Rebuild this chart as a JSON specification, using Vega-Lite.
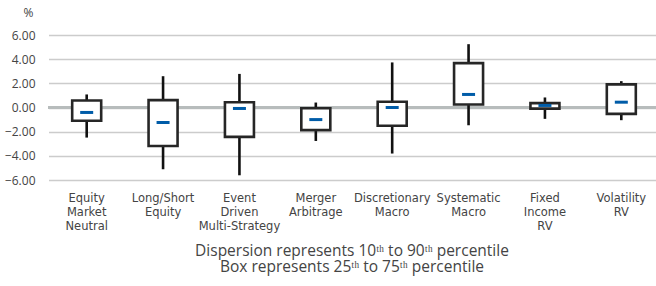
{
  "$schema": "https://vega.github.io/schema/vega-lite/v6.json",
  "autosize": {"type": "none"},
  "padding": {"left": 48, "top": 35, "right": 0, "bottom": 106},
  "width": 608,
  "height": 145,
  "background": "white",
  "config": {
    "font": "Open Sans",
    "view": {"stroke": null}
  },
  "title": {
    "text": ["Dispersion represents 10ᵗʰ to 90ᵗʰ percentile", "Box represents 25ᵗʰ to 75ᵗʰ percentile"],
    "orient": "bottom",
    "anchor": "middle",
    "fontSize": 15.5,
    "fontWeight": "normal",
    "color": "#444444",
    "lineHeight": 16,
    "offset": 12
  },
  "data": {
    "values": [
      {"strategy": "Equity|Market|Neutral", "p10": -2.49, "p25": -1.1, "median": -0.41, "p75": 0.58, "p90": 1.08},
      {"strategy": "Long/Short|Equity", "p10": -5.11, "p25": -3.18, "median": -1.24, "p75": 0.61, "p90": 2.59},
      {"strategy": "Event|Driven|Multi-Strategy", "p10": -5.61, "p25": -2.43, "median": -0.08, "p75": 0.44, "p90": 2.78},
      {"strategy": "Merger|Arbitrage", "p10": -2.77, "p25": -1.87, "median": -1.0, "p75": -0.06, "p90": 0.41},
      {"strategy": "Discretionary|Macro", "p10": -3.81, "p25": -1.51, "median": 0.0, "p75": 0.47, "p90": 3.73},
      {"strategy": "Systematic|Macro", "p10": -1.47, "p25": 0.25, "median": 1.08, "p75": 3.67, "p90": 5.24},
      {"strategy": "Fixed|Income|RV", "p10": -0.94, "p25": -0.09, "median": 0.17, "p75": 0.36, "p90": 0.83},
      {"strategy": "Volatility|RV", "p10": -1.05, "p25": -0.53, "median": 0.44, "p75": 1.91, "p90": 2.18}
    ]
  },
  "encoding": {
    "x": {
      "field": "strategy",
      "type": "nominal",
      "sort": null,
      "scale": {"range": [0.5, 611.5], "paddingInner": 0, "paddingOuter": 0},
      "axis": {
        "title": null,
        "labelAngle": 0,
        "domain": false,
        "ticks": false,
        "labelPadding": 12,
        "labelFont": "DejaVu Sans",
        "labelFontSize": 11.5,
        "labelLineHeight": 14,
        "labelColor": "#444444",
        "labelBaseline": "top",
        "labelOverlap": false,
        "labelExpr": "split(datum.label, '|')"
      }
    }
  },
  "layer": [
    {
      "mark": {"type": "rule", "color": "#b7bcbc", "strokeWidth": 3},
      "encoding": {
        "x": null,
        "y": {
          "datum": 0,
          "type": "quantitative",
          "scale": {"domain": [-6, 6], "nice": false, "zero": false},
          "axis": {
            "values": [-6, -4, -2, 0, 2, 4, 6],
            "tickCount": 7,
            "format": ".2f",
            "grid": true,
            "gridColor": "#cccccc",
            "gridWidth": 1.5,
            "domain": false,
            "ticks": false,
            "labelOverlap": false,
            "labelPadding": 13,
            "labelFontSize": 12,
            "labelColor": "#444444",
            "title": "%",
            "titleAngle": 0,
            "titleX": -20,
            "titleY": -23,
            "titleAlign": "center",
            "titleBaseline": "middle",
            "titleFontSize": 12,
            "titleFontWeight": "normal",
            "titleColor": "#444444"
          }
        }
      }
    },
    {
      "mark": {"type": "rule", "color": "#111111", "strokeWidth": 2.6},
      "encoding": {
        "y": {"field": "p10", "type": "quantitative"},
        "y2": {"field": "p90"}
      }
    },
    {
      "mark": {"type": "bar", "fill": "white", "stroke": "#262626", "strokeWidth": 2.6, "width": 29},
      "encoding": {
        "y": {"field": "p25", "type": "quantitative"},
        "y2": {"field": "p75"}
      }
    },
    {
      "mark": {"type": "tick", "color": "#005ca8", "size": 13, "thickness": 3, "opacity": 1},
      "encoding": {
        "y": {"field": "median", "type": "quantitative"}
      }
    }
  ]
}
